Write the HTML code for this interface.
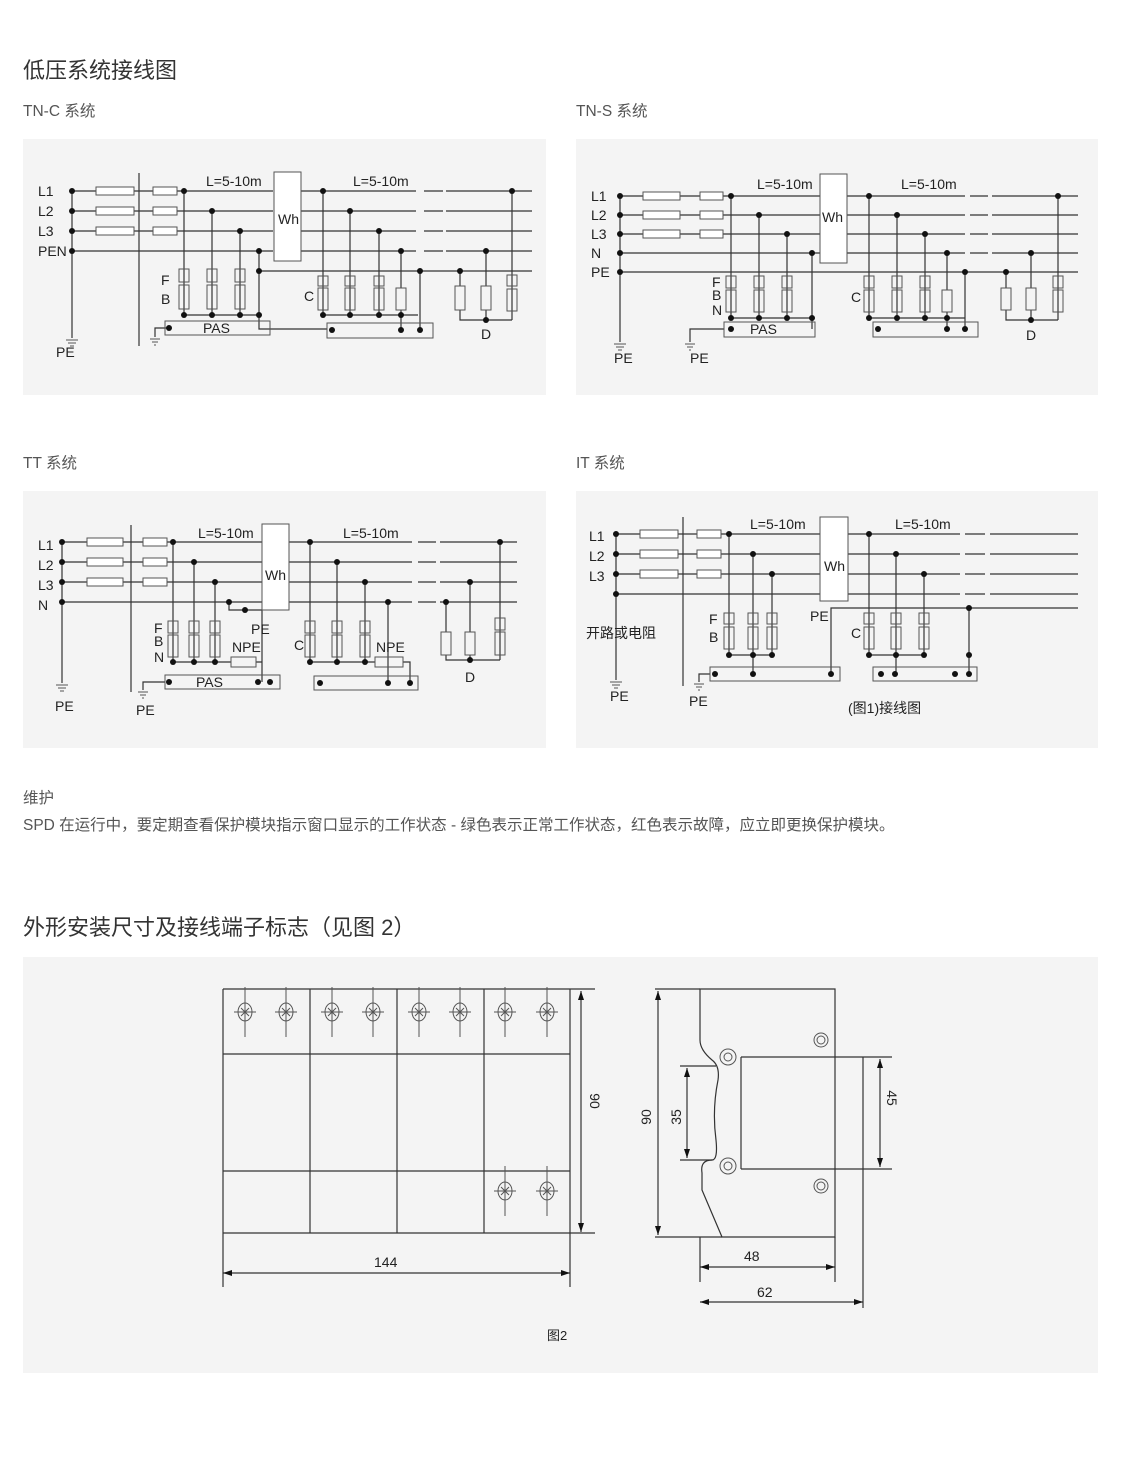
<!DOCTYPE html>
<html><head><meta charset="utf-8"><style>
body{margin:0;background:#fff;}
svg{display:block;font-family:"Liberation Sans","Noto Sans CJK SC",sans-serif;}
.w{stroke:#333;stroke-width:1.2;fill:none}
.b{stroke:#555;stroke-width:1;fill:none}
.t{fill:#222;font-size:14px}
.d{fill:#111}
</style></head><body>
<svg width="1121" height="1471" viewBox="0 0 1121 1471" xmlns="http://www.w3.org/2000/svg">
<rect width="1121" height="1471" fill="#fff"/>
<text x="23" y="78" font-size="22" fill="#333">低压系统接线图</text>
<text x="23" y="116" font-size="15.5" fill="#555">TN-C 系统</text>
<text x="576" y="116" font-size="15.5" fill="#555">TN-S 系统</text>
<text x="23" y="468" font-size="15.5" fill="#555">TT 系统</text>
<text x="576" y="468" font-size="15.5" fill="#555">IT 系统</text>
<rect x="23" y="139" width="523" height="256" fill="#f4f4f4"/>
<rect x="576" y="139" width="522" height="256" fill="#f4f4f4"/>
<rect x="23" y="491" width="523" height="257" fill="#f4f4f4"/>
<rect x="576" y="491" width="522" height="257" fill="#f4f4f4"/>

<!-- TN-C -->
<g>
<path class="w" d="M72 191H273M72 211H273M72 231H273M72 251H273M72 191V338M139 173V346
M301 191H416M424 191H443M446 191H532M301 211H416M424 211H443M446 211H532M301 231H416M424 231H443M446 231H532M301 251H416M424 251H443M446 251H532M259 271H532
M184 191V315M212 211V315M240 231V315M259 251V329H327M184 315H259
M323 191V315M350 211V315M379 231V315M401 251V330M420 271V330M323 315H418
M460 271V320H512M486 251V320M512 191V320M169 328H155V337"/>
<path class="b" d="M66 340H78M68 343H76M70 346H74M150 339H160M152 342H158M154 345H156"/>
<g class="b" fill="#fff">
<rect x="96" y="187" width="38" height="8" fill="#fff"/><rect x="96" y="207" width="38" height="8" fill="#fff"/><rect x="96" y="227" width="38" height="8" fill="#fff"/>
<rect x="153" y="187" width="24" height="8" fill="#fff"/><rect x="153" y="207" width="24" height="8" fill="#fff"/><rect x="153" y="227" width="24" height="8" fill="#fff"/>
<rect x="274" y="172" width="27" height="89" fill="#fff"/>
<rect x="179" y="269" width="10" height="13"/><rect x="179" y="285" width="10" height="24"/>
<rect x="207" y="269" width="10" height="13"/><rect x="207" y="285" width="10" height="24"/>
<rect x="235" y="269" width="10" height="13"/><rect x="235" y="285" width="10" height="24"/>
<rect x="318" y="276" width="10" height="10"/><rect x="318" y="288" width="10" height="22"/>
<rect x="345" y="276" width="10" height="10"/><rect x="345" y="288" width="10" height="22"/>
<rect x="374" y="276" width="10" height="10"/><rect x="374" y="288" width="10" height="22"/>
<rect x="396" y="288" width="10" height="22" fill="#f4f4f4"/>
<rect x="455" y="286" width="10" height="24" fill="#f4f4f4"/><rect x="481" y="286" width="10" height="24" fill="#f4f4f4"/>
<rect x="507" y="275" width="10" height="11"/><rect x="507" y="289" width="10" height="22"/>
<rect x="165" y="321" width="105" height="14" fill="none"/><rect x="327" y="323" width="106" height="15" fill="none"/>
</g>
<g class="d">
<circle cx="72" cy="191" r="3"/><circle cx="72" cy="211" r="3"/><circle cx="72" cy="231" r="3"/><circle cx="72" cy="251" r="3"/>
<circle cx="184" cy="191" r="3"/><circle cx="212" cy="211" r="3"/><circle cx="240" cy="231" r="3"/><circle cx="259" cy="251" r="3"/><circle cx="259" cy="271" r="3"/><circle cx="259" cy="315" r="3"/>
<circle cx="184" cy="315" r="3"/><circle cx="212" cy="315" r="3"/><circle cx="240" cy="315" r="3"/><circle cx="169" cy="328" r="3"/>
<circle cx="323" cy="191" r="3"/><circle cx="350" cy="211" r="3"/><circle cx="379" cy="231" r="3"/><circle cx="401" cy="251" r="3"/><circle cx="420" cy="271" r="3"/>
<circle cx="323" cy="315" r="3"/><circle cx="350" cy="315" r="3"/><circle cx="379" cy="315" r="3"/><circle cx="401" cy="315" r="3"/>
<circle cx="332" cy="330" r="3"/><circle cx="401" cy="330" r="3"/><circle cx="420" cy="330" r="3"/>
<circle cx="460" cy="271" r="3"/><circle cx="486" cy="251" r="3"/><circle cx="512" cy="191" r="3"/><circle cx="486" cy="320" r="3"/>
</g>
<text class="t" x="38" y="196">L1</text><text class="t" x="38" y="216">L2</text><text class="t" x="38" y="236">L3</text><text class="t" x="38" y="256">PEN</text>
<text class="t" x="56" y="357">PE</text><text class="t" x="206" y="186">L=5-10m</text><text class="t" x="353" y="186">L=5-10m</text>
<text class="t" x="278" y="224">Wh</text><text class="t" x="161" y="285">F</text><text class="t" x="161" y="304">B</text><text class="t" x="304" y="301">C</text>
<text class="t" x="203" y="333">PAS</text><text class="t" x="481" y="339">D</text>
</g>

<!-- TN-S -->
<g>
<path class="w" d="M620 196H820M620 215H820M620 234H820M620 253H820M620 272H1078M620 196V342
M847 196H965M970 196H988M992 196H1078M847 215H965M970 215H988M992 215H1078M847 234H965M970 234H988M992 234H1078M847 253H965M970 253H988M992 253H1078
M731 196V318M759 215V318M787 234V318M812 253V329M731 318H812
M869 196V318M897 215V318M925 234V318M947 253V329M965 272V329M869 318H965
M1006 272V320H1058M1031 253V320M1058 196V320M724 329H690V342"/>
<path class="b" d="M614 344H626M616 347H624M618 350H622M685 344H695M687 347H693M689 350H691"/>
<g class="b">
<rect x="643" y="192" width="37" height="8" fill="#fff"/><rect x="643" y="211" width="37" height="8" fill="#fff"/><rect x="643" y="230" width="37" height="8" fill="#fff"/>
<rect x="700" y="192" width="23" height="8" fill="#fff"/><rect x="700" y="211" width="23" height="8" fill="#fff"/><rect x="700" y="230" width="23" height="8" fill="#fff"/>
<rect x="820" y="174" width="27" height="89" fill="#fff"/>
<rect x="726" y="276" width="10" height="12"/><rect x="726" y="290" width="10" height="22"/>
<rect x="754" y="276" width="10" height="12"/><rect x="754" y="290" width="10" height="22"/>
<rect x="782" y="276" width="10" height="12"/><rect x="782" y="290" width="10" height="22"/>
<rect x="864" y="276" width="10" height="12"/><rect x="864" y="290" width="10" height="22"/>
<rect x="892" y="276" width="10" height="12"/><rect x="892" y="290" width="10" height="22"/>
<rect x="920" y="276" width="10" height="12"/><rect x="920" y="290" width="10" height="22"/>
<rect x="942" y="290" width="10" height="22" fill="#f4f4f4"/>
<rect x="1001" y="288" width="10" height="22" fill="#f4f4f4"/><rect x="1026" y="288" width="10" height="22" fill="#f4f4f4"/>
<rect x="1053" y="276" width="10" height="12"/><rect x="1053" y="290" width="10" height="22"/>
<rect x="724" y="322" width="91" height="15"/><rect x="873" y="322" width="105" height="15"/>
</g>
<g class="d">
<circle cx="620" cy="196" r="3"/><circle cx="620" cy="215" r="3"/><circle cx="620" cy="234" r="3"/><circle cx="620" cy="253" r="3"/><circle cx="620" cy="272" r="3"/>
<circle cx="731" cy="196" r="3"/><circle cx="759" cy="215" r="3"/><circle cx="787" cy="234" r="3"/><circle cx="812" cy="253" r="3"/>
<circle cx="731" cy="318" r="3"/><circle cx="759" cy="318" r="3"/><circle cx="787" cy="318" r="3"/><circle cx="812" cy="318" r="3"/><circle cx="731" cy="329" r="3"/>
<circle cx="869" cy="196" r="3"/><circle cx="897" cy="215" r="3"/><circle cx="925" cy="234" r="3"/><circle cx="947" cy="253" r="3"/><circle cx="965" cy="272" r="3"/>
<circle cx="869" cy="318" r="3"/><circle cx="897" cy="318" r="3"/><circle cx="925" cy="318" r="3"/><circle cx="947" cy="318" r="3"/>
<circle cx="878" cy="329" r="3"/><circle cx="947" cy="329" r="3"/><circle cx="965" cy="329" r="3"/>
<circle cx="1006" cy="272" r="3"/><circle cx="1031" cy="253" r="3"/><circle cx="1058" cy="196" r="3"/><circle cx="1031" cy="320" r="3"/>
</g>
<text class="t" x="591" y="201">L1</text><text class="t" x="591" y="220">L2</text><text class="t" x="591" y="239">L3</text><text class="t" x="591" y="258">N</text><text class="t" x="591" y="277">PE</text>
<text class="t" x="614" y="363">PE</text><text class="t" x="690" y="363">PE</text>
<text class="t" x="757" y="189">L=5-10m</text><text class="t" x="901" y="189">L=5-10m</text><text class="t" x="822" y="222">Wh</text>
<text class="t" x="712" y="287">F</text><text class="t" x="712" y="300">B</text><text class="t" x="712" y="315">N</text><text class="t" x="851" y="302">C</text>
<text class="t" x="750" y="334">PAS</text><text class="t" x="1026" y="340">D</text>
</g>

<!-- TT -->
<g>
<path class="w" d="M62 542H262M62 562H262M62 582H262M62 602H262M62 542V683M131 525V692
M289 542H412M418 542H436M440 542H517M289 562H412M418 562H436M440 562H517M289 582H412M418 582H436M440 582H517M289 602H412M418 602H436M440 602H517
M173 542V662M194 562V662M215 582V662M229 602V610H262V682M173 662H231M256 662H262
M310 542V662M337 562V662M365 582V662M388 602V683M310 662H375M403 662H410V683
M446 602V660H500M470 582V660M500 542V660M165 682H143V690"/>
<path class="b" d="M56 685H68M58 688H66M60 691H64M138 692H148M140 695H146M142 698H144"/>
<g class="b">
<rect x="87" y="538" width="36" height="8" fill="#fff"/><rect x="87" y="558" width="36" height="8" fill="#fff"/><rect x="87" y="578" width="36" height="8" fill="#fff"/>
<rect x="143" y="538" width="24" height="8" fill="#fff"/><rect x="143" y="558" width="24" height="8" fill="#fff"/><rect x="143" y="578" width="24" height="8" fill="#fff"/>
<rect x="262" y="524" width="27" height="86" fill="#fff"/>
<rect x="168" y="621" width="10" height="12"/><rect x="168" y="635" width="10" height="22"/>
<rect x="189" y="621" width="10" height="12"/><rect x="189" y="635" width="10" height="22"/>
<rect x="210" y="621" width="10" height="12"/><rect x="210" y="635" width="10" height="22"/>
<rect x="231" y="657" width="25" height="10"/>
<rect x="305" y="621" width="10" height="12"/><rect x="305" y="635" width="10" height="22"/>
<rect x="332" y="621" width="10" height="12"/><rect x="332" y="635" width="10" height="22"/>
<rect x="360" y="621" width="10" height="12"/><rect x="360" y="635" width="10" height="22"/>
<rect x="375" y="657" width="28" height="10"/>
<rect x="441" y="632" width="10" height="23" fill="#f4f4f4"/><rect x="465" y="632" width="10" height="23" fill="#f4f4f4"/>
<rect x="495" y="618" width="10" height="12"/><rect x="495" y="632" width="10" height="23"/>
<rect x="165" y="675" width="115" height="14"/><rect x="314" y="676" width="104" height="14"/>
</g>
<g class="d">
<circle cx="62" cy="542" r="3"/><circle cx="62" cy="562" r="3"/><circle cx="62" cy="582" r="3"/><circle cx="62" cy="602" r="3"/>
<circle cx="173" cy="542" r="3"/><circle cx="194" cy="562" r="3"/><circle cx="215" cy="582" r="3"/><circle cx="229" cy="602" r="3"/><circle cx="245" cy="610" r="3"/>
<circle cx="173" cy="662" r="3"/><circle cx="194" cy="662" r="3"/><circle cx="215" cy="662" r="3"/>
<circle cx="258" cy="682" r="3"/><circle cx="270" cy="682" r="3"/><circle cx="169" cy="682" r="3"/>
<circle cx="310" cy="542" r="3"/><circle cx="337" cy="562" r="3"/><circle cx="365" cy="582" r="3"/><circle cx="388" cy="602" r="3"/>
<circle cx="310" cy="662" r="3"/><circle cx="337" cy="662" r="3"/><circle cx="365" cy="662" r="3"/>
<circle cx="320" cy="683" r="3"/><circle cx="388" cy="683" r="3"/><circle cx="410" cy="683" r="3"/>
<circle cx="446" cy="602" r="3"/><circle cx="470" cy="582" r="3"/><circle cx="500" cy="542" r="3"/><circle cx="470" cy="660" r="3"/>
</g>
<text class="t" x="38" y="550">L1</text><text class="t" x="38" y="570">L2</text><text class="t" x="38" y="590">L3</text><text class="t" x="38" y="610">N</text>
<text class="t" x="55" y="711">PE</text><text class="t" x="136" y="715">PE</text>
<text class="t" x="198" y="538">L=5-10m</text><text class="t" x="343" y="538">L=5-10m</text><text class="t" x="265" y="580">Wh</text>
<text class="t" x="251" y="634">PE</text><text class="t" x="154" y="633">F</text><text class="t" x="154" y="646">B</text><text class="t" x="154" y="662">N</text>
<text class="t" x="232" y="652">NPE</text><text class="t" x="376" y="652">NPE</text><text class="t" x="294" y="650">C</text>
<text class="t" x="196" y="687">PAS</text><text class="t" x="465" y="682">D</text>
</g>

<!-- IT -->
<g>
<path class="w" d="M616 534H820M616 554H820M616 574H820M616 594H820M616 534V680M683 517V686
M848 534H960M965 534H985M990 534H1078M848 554H960M965 554H985M990 554H1078M848 574H960M965 574H985M990 574H1078M848 594H960M965 594H985M990 594H1078
M831 674V608H1078M729 534V655M753 554V674M772 574V655M729 655H772
M869 534V655M896 554V674M924 574V655M969 608V674M869 655H924M710 674H699V682"/>
<path class="b" d="M610 682H622M612 685H620M614 688H618M694 684H704M696 687H702M698 690H700M820 517H847"/>
<g class="b">
<rect x="640" y="530" width="38" height="8" fill="#fff"/><rect x="640" y="550" width="38" height="8" fill="#fff"/><rect x="640" y="570" width="38" height="8" fill="#fff"/>
<rect x="697" y="530" width="24" height="8" fill="#fff"/><rect x="697" y="550" width="24" height="8" fill="#fff"/><rect x="697" y="570" width="24" height="8" fill="#fff"/>
<rect x="820" y="517" width="28" height="84" fill="#fff"/>
<rect x="724" y="613" width="10" height="11"/><rect x="724" y="627" width="10" height="22"/>
<rect x="748" y="613" width="10" height="11"/><rect x="748" y="627" width="10" height="22"/>
<rect x="767" y="613" width="10" height="11"/><rect x="767" y="627" width="10" height="22"/>
<rect x="864" y="613" width="10" height="11"/><rect x="864" y="627" width="10" height="22"/>
<rect x="891" y="613" width="10" height="11"/><rect x="891" y="627" width="10" height="22"/>
<rect x="919" y="613" width="10" height="11"/><rect x="919" y="627" width="10" height="22"/>
<rect x="710" y="667" width="130" height="14"/><rect x="873" y="667" width="104" height="14"/>
</g>
<g class="d">
<circle cx="616" cy="534" r="3"/><circle cx="616" cy="554" r="3"/><circle cx="616" cy="574" r="3"/><circle cx="616" cy="594" r="3"/>
<circle cx="729" cy="534" r="3"/><circle cx="753" cy="554" r="3"/><circle cx="772" cy="574" r="3"/>
<circle cx="729" cy="655" r="3"/><circle cx="753" cy="655" r="3"/><circle cx="772" cy="655" r="3"/>
<circle cx="715" cy="674" r="3"/><circle cx="753" cy="674" r="3"/><circle cx="831" cy="674" r="3"/>
<circle cx="869" cy="534" r="3"/><circle cx="896" cy="554" r="3"/><circle cx="924" cy="574" r="3"/><circle cx="969" cy="608" r="3"/>
<circle cx="869" cy="655" r="3"/><circle cx="896" cy="655" r="3"/><circle cx="924" cy="655" r="3"/><circle cx="969" cy="655" r="3"/>
<circle cx="881" cy="674" r="3"/><circle cx="895" cy="674" r="3"/><circle cx="955" cy="674" r="3"/><circle cx="969" cy="674" r="3"/>
</g>
<text class="t" x="589" y="541">L1</text><text class="t" x="589" y="561">L2</text><text class="t" x="589" y="581">L3</text>
<text class="t" x="586" y="638" font-size="13">开路或电阻</text>
<text class="t" x="610" y="701">PE</text><text class="t" x="689" y="706">PE</text>
<text class="t" x="750" y="529">L=5-10m</text><text class="t" x="895" y="529">L=5-10m</text><text class="t" x="824" y="571">Wh</text>
<text class="t" x="810" y="621">PE</text><text class="t" x="709" y="624">F</text><text class="t" x="709" y="642">B</text><text class="t" x="851" y="638">C</text>
<text class="t" x="848" y="713" font-size="13">(图1)接线图</text>
</g>

<text x="23" y="803" font-size="15.5" fill="#555">维护</text>
<text x="23" y="830" font-size="15.5" fill="#555">SPD 在运行中，要定期查看保护模块指示窗口显示的工作状态 - 绿色表示正常工作状态，红色表示故障，应立即更换保护模块。</text>
<text x="23" y="935" font-size="22" fill="#333">外形安装尺寸及接线端子标志（见图 2）</text>

<rect x="23" y="957" width="1075" height="416" fill="#f4f4f4"/>
<g class="w" stroke-width="1">
<path d="M223 989H595M223 989V1233M223 1233H595M570 989V1233M310 989V1233M397 989V1233M484 989V1233M223 1054H570M223 1171H570
M223 1233V1287M570 1233V1287M223 1273H570M581 991V1232"/>
<path d="M700 989H835V1237H722L702 1190V1173Q700 1160 712 1160Q718 1160 716 1140Q712 1110 718 1080Q720 1066 712 1060Q700 1050 700 1040Z"/>
<path d="M655 989H700M655 1237H722M658 991V1235M680 1066H716M680 1160H712M687 1068V1158
M741 1057H892M741 1169H892M741 1057V1169M863 1057V1169M880 1059V1167
M700 1237V1282M835 1237V1282M863 1169V1308M700 1267H835M700 1302H863"/>
</g>
<g class="d">
<path d="M581 991l-3 9h6zM581 1232l-3-9h6zM223 1273l9-3v6zM570 1273l-9-3v6zM658 991l-3 9h6zM658 1235l-3-9h6zM687 1068l-3 9h6zM687 1158l-3-9h6zM880 1059l-3 9h6zM880 1167l-3-9h6zM700 1267l9-3v6zM835 1267l-9-3v6zM700 1302l9-3v6zM863 1302l-9-3v6z"/>
</g>
<g class="b" stroke="#444">
<g transform="translate(245 1012)"><ellipse rx="7" ry="9"/><path d="M-11 0H11M0 -25V25M-4 -4L4 4M4 -4L-4 4"/></g>
<g transform="translate(286 1012)"><ellipse rx="7" ry="9"/><path d="M-11 0H11M0 -25V25M-4 -4L4 4M4 -4L-4 4"/></g>
<g transform="translate(332 1012)"><ellipse rx="7" ry="9"/><path d="M-11 0H11M0 -25V25M-4 -4L4 4M4 -4L-4 4"/></g>
<g transform="translate(373 1012)"><ellipse rx="7" ry="9"/><path d="M-11 0H11M0 -25V25M-4 -4L4 4M4 -4L-4 4"/></g>
<g transform="translate(419 1012)"><ellipse rx="7" ry="9"/><path d="M-11 0H11M0 -25V25M-4 -4L4 4M4 -4L-4 4"/></g>
<g transform="translate(460 1012)"><ellipse rx="7" ry="9"/><path d="M-11 0H11M0 -25V25M-4 -4L4 4M4 -4L-4 4"/></g>
<g transform="translate(505 1012)"><ellipse rx="7" ry="9"/><path d="M-11 0H11M0 -25V25M-4 -4L4 4M4 -4L-4 4"/></g>
<g transform="translate(547 1012)"><ellipse rx="7" ry="9"/><path d="M-11 0H11M0 -25V25M-4 -4L4 4M4 -4L-4 4"/></g>
<g transform="translate(505 1191)"><ellipse rx="7" ry="9"/><path d="M-11 0H11M0 -25V25M-4 -4L4 4M4 -4L-4 4"/></g>
<g transform="translate(547 1191)"><ellipse rx="7" ry="9"/><path d="M-11 0H11M0 -25V25M-4 -4L4 4M4 -4L-4 4"/></g>
<circle cx="728" cy="1057" r="8" fill="#f4f4f4"/><circle cx="728" cy="1057" r="4"/>
<circle cx="728" cy="1166" r="8" fill="#f4f4f4"/><circle cx="728" cy="1166" r="4"/>
<circle cx="821" cy="1040" r="7"/><circle cx="821" cy="1040" r="4"/>
<circle cx="821" cy="1186" r="7"/><circle cx="821" cy="1186" r="4"/>
</g>
<g class="t" font-size="14">
<text x="374" y="1267">144</text>
<text x="0" y="0" transform="translate(590 1101) rotate(90)" text-anchor="middle">90</text>
<text x="0" y="0" transform="translate(651 1117) rotate(-90)" text-anchor="middle">90</text>
<text x="0" y="0" transform="translate(681 1117) rotate(-90)" text-anchor="middle">35</text>
<text x="0" y="0" transform="translate(887 1098) rotate(90)" text-anchor="middle">45</text>
<text x="744" y="1261">48</text><text x="757" y="1297">62</text>
<text x="547" y="1340" font-size="13">图2</text>
</g>
</svg>
</body></html>
